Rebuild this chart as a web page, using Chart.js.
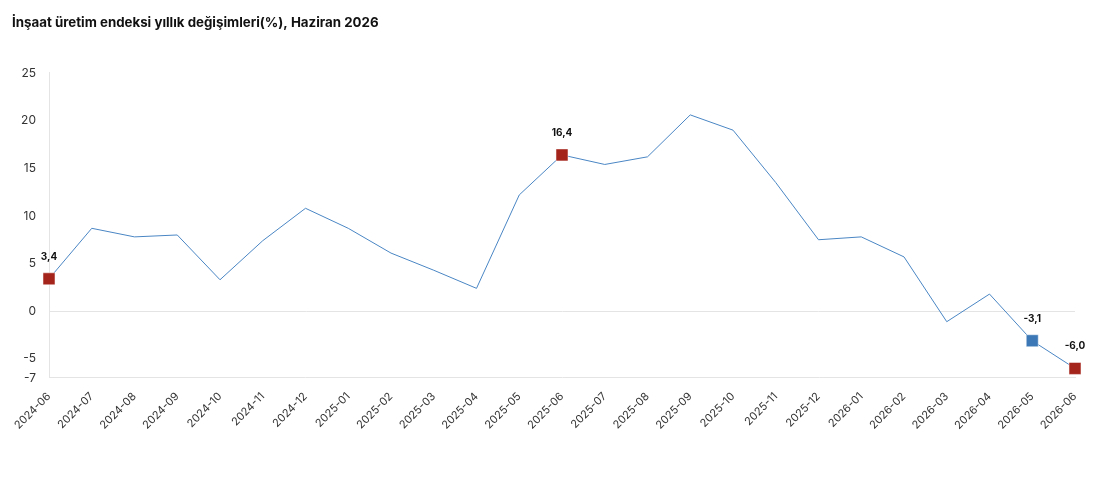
<!DOCTYPE html>
<html lang="tr">
<head>
  <meta charset="UTF-8" />
  <title>İnşaat üretim endeksi</title>
  <script src="https://cdn.jsdelivr.net/npm/chart.js"></script>
  <style>
    html, body { margin: 0; padding: 0; background: #fff; }
    #wrap { width: 1099px; height: 479px; }
  </style>
</head>
<body>
  <div id="wrap"><canvas id="chart" width="1099" height="479"></canvas></div>

  <script>
  const months = [
    "2024-06", "2024-07", "2024-08", "2024-09", "2024-10", "2024-11", "2024-12",
    "2025-01", "2025-02", "2025-03", "2025-04", "2025-05", "2025-06", "2025-07",
    "2025-08", "2025-09", "2025-10", "2025-11", "2025-12", "2026-01", "2026-02",
    "2026-03", "2026-04", "2026-05", "2026-06"
  ];
  const yearlyChange = [
    3.4, 8.7, 7.8, 8.0, 3.3, 7.4, 10.8,
    8.7, 6.1, 4.3, 2.4, 12.2, 16.4, 15.4,
    16.2, 20.6, 19.0, 13.5, 7.5, 7.8, 5.7,
    -1.1, 1.8, -3.1, -6.0
  ];
  const yTicks = [25, 20, 15, 10, 5, 0, -5, -7];
  // highlighted points: index -> marker colour
  const markedIdx = [0, 12, 23, 24];
  const markedColor = ["#a4241b", "#a4241b", "#3b78b5", "#a4241b"];

  const fmt = v => v.toFixed(1).replace(".", ",");

  const pointLabels = {
    id: "pointLabels",
    afterDatasetsDraw(chart) {
      const ctx = chart.ctx;
      const meta = chart.getDatasetMeta(0);
      ctx.save();
      ctx.font = "bold 10px Inter, 'Liberation Sans', sans-serif";
      ctx.fillStyle = "#111";
      ctx.textAlign = "center";
      ctx.textBaseline = "middle";
      markedIdx.forEach(i => {
        const p = meta.data[i];
        ctx.fillText(fmt(yearlyChange[i]), p.x, p.y - 22);
      });
      ctx.restore();
    }
  };

  new Chart(document.getElementById("chart"), {
    type: "line",
    data: {
      labels: months,
      datasets: [{
        data: yearlyChange,
        borderColor: "#4a86c4",
        borderWidth: 1,
        tension: 0,
        pointStyle: "rect",
        pointRadius: ctx => markedIdx.includes(ctx.dataIndex) ? 8.5 : 0,
        pointHoverRadius: ctx => markedIdx.includes(ctx.dataIndex) ? 8.5 : 0,
        pointBackgroundColor: ctx => {
          const k = markedIdx.indexOf(ctx.dataIndex);
          return k >= 0 ? markedColor[k] : "#4a86c4";
        },
        pointBorderColor: "rgba(255,255,255,0.5)",
        pointBorderWidth: 1
      }]
    },
    options: {
      responsive: false,
      animation: false,
      layout: { padding: { left: 12, right: 24, top: 6, bottom: 43 } },
      plugins: {
        legend: { display: false },
        tooltip: { enabled: false },
        title: {
          display: true,
          text: "İnşaat üretim endeksi yıllık değişimleri(%), Haziran 2026",
          align: "start",
          color: "#111",
          font: { family: "Inter", size: 13.3, weight: "bold" },
          padding: { top: 9, bottom: 42 }
        }
      },
      scales: {
        x: {
          grid: { display: false },
          border: { display: true, color: "#e4e4e4", width: 1 },
          ticks: {
            color: "#333",
            font: { family: "Inter", size: 11 },
            minRotation: 45,
            maxRotation: 45,
            autoSkip: false,
            padding: 4
          }
        },
        y: {
          min: -7,
          max: 25,
          afterBuildTicks: axis => { axis.ticks = yTicks.map(v => ({ value: v })); },
          afterFit: axis => { axis.width = 37; },
          grid: {
            drawTicks: false,
            color: ctx => ctx.tick && ctx.tick.value === 0 ? "#e4e4e4" : "rgba(0,0,0,0)"
          },
          border: { display: true, color: "#e4e4e4", width: 1 },
          ticks: {
            color: "#333",
            font: { family: "Inter", size: 12 },
            padding: 13
          }
        }
      }
    },
    plugins: [pointLabels]
  });
  </script>
</body>
</html>
